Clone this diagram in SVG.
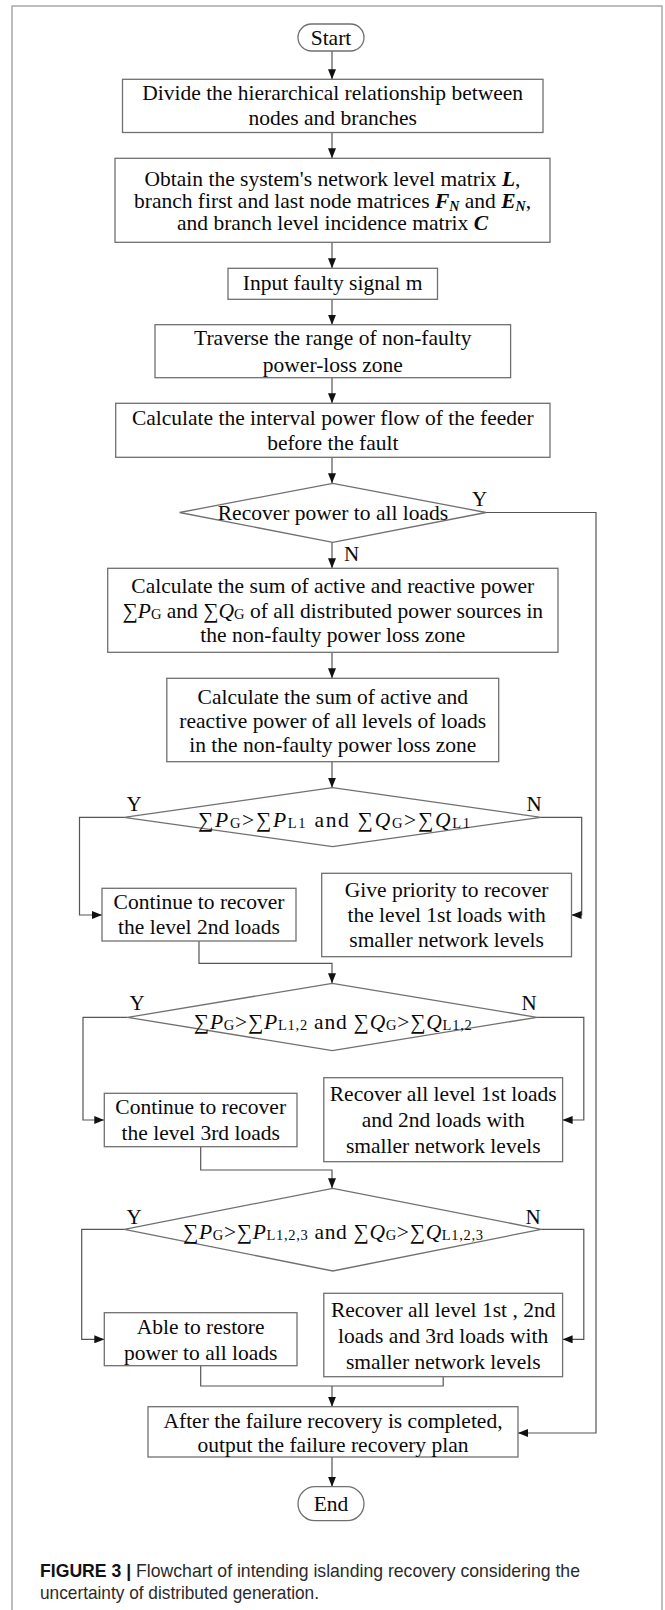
<svg xmlns="http://www.w3.org/2000/svg" width="665" height="1610" viewBox="0 0 665 1610">
<style>
.frame{fill:none;stroke:#a8a8a8;stroke-width:1.5}
.box{fill:#fff;stroke:#707070;stroke-width:1.3}
.conn{fill:none;stroke:#555;stroke-width:1.2}
.t{font-family:"Liberation Serif","Times New Roman",serif;font-size:21.5px;fill:#0a0a0a;text-anchor:middle}
.lbl{font-family:"Liberation Serif","Times New Roman",serif;font-size:21px;fill:#0a0a0a;text-anchor:middle}
.i{font-style:italic}
.bi{font-style:italic;font-weight:bold}
.s{font-size:14.5px;font-style:normal}
.sbi{font-size:14px;font-style:italic;font-weight:bold}
.cap{font-family:"Liberation Sans",Arial,sans-serif;font-size:19px;fill:#2a2a2a}
.capb{font-weight:bold;fill:#111}
</style>
<defs>
<marker id="arr" markerUnits="userSpaceOnUse" markerWidth="10" markerHeight="8" refX="10" refY="4" orient="auto">
<path d="M0,0 L10,4 L0,8 z" fill="#111"/>
</marker>
</defs>
<rect class="frame" x="12" y="6" width="650" height="1620"/>

<g id="connectors">
<line class="conn" x1="332" y1="51" x2="332" y2="79.3" marker-end="url(#arr)"/>
<line class="conn" x1="332" y1="132.5" x2="332" y2="158.3" marker-end="url(#arr)"/>
<line class="conn" x1="332" y1="242.3" x2="332" y2="268.3" marker-end="url(#arr)"/>
<line class="conn" x1="332" y1="299.3" x2="332" y2="324.7" marker-end="url(#arr)"/>
<line class="conn" x1="332" y1="377.7" x2="332" y2="403.3" marker-end="url(#arr)"/>
<line class="conn" x1="332" y1="457.3" x2="332" y2="483.3" marker-end="url(#arr)"/>
<line class="conn" x1="332" y1="542.3" x2="332" y2="568.3" marker-end="url(#arr)"/>
<line class="conn" x1="332" y1="652.3" x2="332" y2="678.3" marker-end="url(#arr)"/>
<line class="conn" x1="332" y1="761.7" x2="332" y2="787.7" marker-end="url(#arr)"/>
<polyline class="conn" points="486,512.5 596,512.5 596,1433 518,1433" marker-end="url(#arr)"/>
<polyline class="conn" points="124,817.3 79.5,817.3 79.5,915 102,915" marker-end="url(#arr)"/>
<polyline class="conn" points="541,817.3 581.7,817.3 581.7,915 571.5,915" marker-end="url(#arr)"/>
<polyline class="conn" points="199,941 199,963.3 332,963.3 332,983.3" marker-end="url(#arr)"/>
<polyline class="conn" points="127.7,1017.3 83,1017.3 83,1120 104.3,1120" marker-end="url(#arr)"/>
<polyline class="conn" points="537,1017.3 583.8,1017.3 583.8,1120 562.6,1120" marker-end="url(#arr)"/>
<polyline class="conn" points="200.7,1146.7 200.7,1170 332,1170 332,1188.3" marker-end="url(#arr)"/>
<polyline class="conn" points="124.3,1229.3 81.7,1229.3 81.7,1339.3 104.3,1339.3" marker-end="url(#arr)"/>
<polyline class="conn" points="541.3,1229.3 583.8,1229.3 583.8,1339.3 562.6,1339.3" marker-end="url(#arr)"/>
<polyline class="conn" points="200.7,1365.7 200.7,1386 443.2,1386 443.2,1376.7"/>
<line class="conn" x1="332" y1="1386" x2="332" y2="1406.7" marker-end="url(#arr)"/>
<line class="conn" x1="332" y1="1457" x2="332" y2="1486.7" marker-end="url(#arr)"/>
</g>

<g id="start">
<rect class="box" x="298" y="24" width="66" height="27" rx="13.5"/>
<text class="t" x="331" y="44.5">Start</text>
</g>
<g id="divide">
<rect class="box" x="122.5" y="79.3" width="420.5" height="53.2"/>
<text class="t" x="332.7" y="100.3">Divide the hierarchical relationship between</text>
<text class="t" x="332.7" y="125.3">nodes and branches</text>
</g>
<g id="obtain">
<rect class="box" x="115" y="158.3" width="435" height="84"/>
<text class="t" x="332.5" y="185.5">Obtain the system's network level matrix <tspan class="bi">L</tspan>,</text>
<text class="t" x="332.5" y="207.5">branch first and last node matrices <tspan class="bi">F</tspan><tspan class="sbi" dy="3">N</tspan><tspan dy="-3"> and </tspan><tspan class="bi">E</tspan><tspan class="sbi" dy="3">N</tspan><tspan dy="-3">,</tspan></text>
<text class="t" x="332.5" y="229.5">and branch level incidence matrix <tspan class="bi">C</tspan></text>
</g>
<g id="input">
<rect class="box" x="228" y="268.3" width="209.5" height="31"/>
<text class="t" x="332.7" y="290.3">Input faulty signal m</text>
</g>
<g id="traverse">
<rect class="box" x="155" y="324.7" width="355.6" height="53"/>
<text class="t" x="332.8" y="345.3">Traverse the range of non-faulty</text>
<text class="t" x="332.8" y="371.5">power-loss zone</text>
</g>
<g id="interval">
<rect class="box" x="115.7" y="403.3" width="434.3" height="54"/>
<text class="t" x="332.8" y="425.3">Calculate the interval power flow of the feeder</text>
<text class="t" x="332.8" y="449.7">before the fault</text>
</g>
<g id="recover-all">
<polygon class="box" points="179.6,512.5 332.8,483.3 486,512.5 332.8,542.3"/>
<text class="t" x="333" y="520">Recover power to all loads</text>
<text class="lbl" x="479.6" y="506.3">Y</text>
<text class="lbl" x="351.5" y="561.3">N</text>
</g>
<g id="sum-dg">
<rect class="box" x="107.7" y="568.3" width="450.3" height="84"/>
<text class="t" x="332.8" y="593">Calculate the sum of active and reactive power</text>
<text class="t" x="332.8" y="617.5"><tspan class="i">∑P</tspan><tspan class="s" dy="1">G</tspan><tspan dy="-1"> and </tspan><tspan class="i">∑Q</tspan><tspan class="s" dy="1">G</tspan><tspan dy="-1"> of all distributed power sources in</tspan></text>
<text class="t" x="332.8" y="642">the non-faulty power loss zone</text>
</g>
<g id="sum-loads">
<rect class="box" x="166.8" y="678.3" width="331.9" height="83.4"/>
<text class="t" x="332.8" y="703.5">Calculate the sum of active and</text>
<text class="t" x="332.8" y="727.5">reactive power of all levels of loads</text>
<text class="t" x="332.8" y="751.5">in the non-faulty power loss zone</text>
</g>
<g id="cond1">
<polygon class="box" points="124,817.3 332.5,787.7 541,817.3 332.5,846.7"/>
<text class="t" x="334" y="827" textLength="272" lengthAdjust="spacing"><tspan class="i">∑P</tspan><tspan class="s" dy="1">G</tspan><tspan dy="-1">&gt;</tspan><tspan class="i">∑P</tspan><tspan class="s" dy="1">L1</tspan><tspan dy="-1"> and </tspan><tspan class="i">∑Q</tspan><tspan class="s" dy="1">G</tspan><tspan dy="-1">&gt;</tspan><tspan class="i">∑Q</tspan><tspan class="s" dy="1">L1</tspan></text>
<text class="lbl" x="134" y="811.3">Y</text>
<text class="lbl" x="534" y="811.3">N</text>
</g>
<g id="level2">
<rect class="box" x="102" y="888.3" width="194" height="52.7"/>
<text class="t" x="199" y="909">Continue to recover</text>
<text class="t" x="199" y="934">the level 2nd loads</text>
</g>
<g id="priority1">
<rect class="box" x="321.7" y="873.3" width="249.8" height="83.4"/>
<text class="t" x="446.6" y="897">Give priority to recover</text>
<text class="t" x="446.6" y="922">the level 1st loads with</text>
<text class="t" x="446.6" y="947">smaller network levels</text>
</g>
<g id="cond2">
<polygon class="box" points="127.7,1017.3 332.3,983.3 537,1017.3 332.3,1050.7"/>
<text class="t" x="332.8" y="1028.7" textLength="278" lengthAdjust="spacing"><tspan class="i">∑P</tspan><tspan class="s" dy="1">G</tspan><tspan dy="-1">&gt;</tspan><tspan class="i">∑P</tspan><tspan class="s" dy="1">L1,2</tspan><tspan dy="-1"> and </tspan><tspan class="i">∑Q</tspan><tspan class="s" dy="1">G</tspan><tspan dy="-1">&gt;</tspan><tspan class="i">∑Q</tspan><tspan class="s" dy="1">L1,2</tspan></text>
<text class="lbl" x="137" y="1010.3">Y</text>
<text class="lbl" x="529" y="1010.3">N</text>
</g>
<g id="level3">
<rect class="box" x="104.3" y="1093.3" width="192.7" height="53.4"/>
<text class="t" x="200.7" y="1113.7">Continue to recover</text>
<text class="t" x="200.7" y="1139.7">the level 3rd loads</text>
</g>
<g id="recover12">
<rect class="box" x="323.8" y="1077.7" width="238.8" height="84"/>
<text class="t" x="443.2" y="1101.3">Recover all level 1st loads</text>
<text class="t" x="443.2" y="1127">and 2nd loads with</text>
<text class="t" x="443.2" y="1153">smaller network levels</text>
</g>
<g id="cond3">
<polygon class="box" points="124.3,1229.3 332.8,1188.3 541.3,1229.3 332.8,1271"/>
<text class="t" x="333" y="1238.7" textLength="300" lengthAdjust="spacing"><tspan class="i">∑P</tspan><tspan class="s" dy="1">G</tspan><tspan dy="-1">&gt;</tspan><tspan class="i">∑P</tspan><tspan class="s" dy="1">L1,2,3</tspan><tspan dy="-1"> and </tspan><tspan class="i">∑Q</tspan><tspan class="s" dy="1">G</tspan><tspan dy="-1">&gt;</tspan><tspan class="i">∑Q</tspan><tspan class="s" dy="1">L1,2,3</tspan></text>
<text class="lbl" x="134" y="1223.7">Y</text>
<text class="lbl" x="533" y="1223.7">N</text>
</g>
<g id="restore-all">
<rect class="box" x="104.3" y="1312.7" width="192.7" height="53"/>
<text class="t" x="200.7" y="1333.7">Able to restore</text>
<text class="t" x="200.7" y="1359.7">power to all loads</text>
</g>
<g id="recover123">
<rect class="box" x="323.8" y="1293.3" width="238.8" height="83.4"/>
<text class="t" x="443.2" y="1317">Recover all level 1st , 2nd</text>
<text class="t" x="443.2" y="1343">loads and 3rd loads with</text>
<text class="t" x="443.2" y="1368.7">smaller network levels</text>
</g>
<g id="output">
<rect class="box" x="148" y="1406.7" width="370" height="50.3"/>
<text class="t" x="333" y="1428">After the failure recovery is completed,</text>
<text class="t" x="333" y="1452">output the failure recovery plan</text>
</g>
<g id="end">
<rect class="box" x="298" y="1486.7" width="66" height="34" rx="17"/>
<text class="t" x="331" y="1511">End</text>
</g>
<g id="caption">
<text class="cap" x="40" y="1577" textLength="540" lengthAdjust="spacingAndGlyphs"><tspan class="capb">FIGURE 3 |</tspan> Flowchart of intending islanding recovery considering the</text>
<text class="cap" x="40" y="1598.5" textLength="279" lengthAdjust="spacingAndGlyphs">uncertainty of distributed generation.</text>
</g>
</svg>
